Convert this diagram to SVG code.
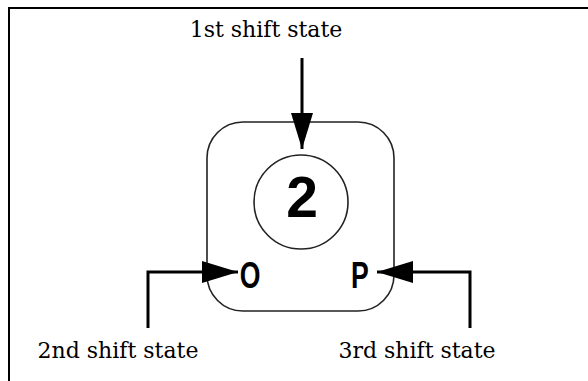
<svg xmlns="http://www.w3.org/2000/svg" width="588" height="381" viewBox="0 0 588 381">
<style>
.lbl{font-family:"DejaVu Serif","Liberation Serif",serif;font-size:22px;fill:#000;text-anchor:middle}
.key{font-family:"Liberation Sans",Arial,sans-serif;font-weight:bold;fill:#000}
.conn{fill:none;stroke:#000;stroke-width:3}
.shape{fill:none;stroke:#222;stroke-width:1.6}
</style>
<defs>
<marker id="ah" viewBox="0 0 36 22" refX="36" refY="11" markerWidth="36" markerHeight="22" markerUnits="userSpaceOnUse" orient="auto">
<path d="M0,0 L36,11 L0,22 Z" fill="#000"/>
</marker>
</defs>
<rect x="0" y="0" width="588" height="381" fill="#fff"/>
<rect x="9" y="8" width="620" height="420" fill="none" stroke="#000" stroke-width="2"/>
<g id="key">
<rect class="shape" x="207" y="122" width="187" height="189" rx="36" ry="36"/>
<circle class="shape" cx="301" cy="202" r="47"/>
<text class="key" x="302" y="217" font-size="57" text-anchor="middle">2</text>
<text class="key" transform="translate(250,288) scale(0.72,1)" font-size="37" text-anchor="middle">O</text>
<text class="key" transform="translate(360,288) scale(0.72,1)" font-size="37" text-anchor="middle">P</text>
</g>
<g id="label1"><text class="lbl" x="266" y="37">1st shift state</text></g>
<g id="label2"><text class="lbl" x="118" y="358">2nd shift state</text></g>
<g id="label3"><text class="lbl" x="417" y="358">3rd shift state</text></g>
<g id="connectors">
<path class="conn" d="M302,58 L302,149" marker-end="url(#ah)"/>
<path class="conn" d="M148,328 L148,272 L238,272" marker-end="url(#ah)"/>
<path class="conn" d="M470,328 L470,272 L377,272" marker-end="url(#ah)"/>
</g>
</svg>
